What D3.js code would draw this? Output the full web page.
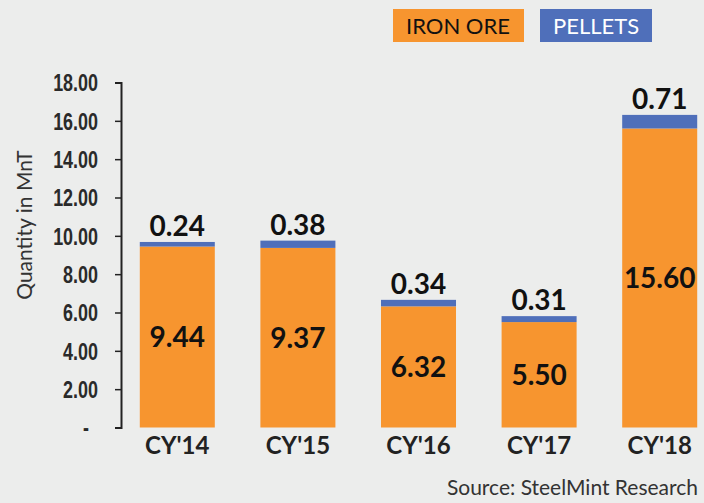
<!DOCTYPE html>
<html>
<head>
<meta charset="utf-8">
<script src="https://cdn.jsdelivr.net/npm/d3@7"></script>
<style>
  body { margin: 0; background: #ecedec; }
  svg { display: block; font-family: Lato, "Open Sans", sans-serif; }
</style>
</head>
<body>
<div id="chart"></div>
<script>
// data
var years = ["CY'14", "CY'15", "CY'16", "CY'17", "CY'18"];
var ironOre = [9.44, 9.37, 6.32, 5.50, 15.60];
var pellets = [0.24, 0.38, 0.34, 0.31, 0.71];
var yTicks = [0, 2, 4, 6, 8, 10, 12, 14, 16, 18];

var W = 704, H = 503;
var orange = "#f7952f", blue = "#4f6fba";

var svg = d3.select("#chart").append("svg")
  .attr("width", W)
  .attr("height", H);

svg.append("rect").attr("width", W).attr("height", H).attr("fill", "#ecedec");

var y = d3.scaleLinear().domain([0, 18]).range([427.5, 82.5]);
var x = d3.scaleBand().domain(years).range([117, 720]).paddingInner(0.378).paddingOuter(0.189);

// y axis
var yAxis = svg.append("g")
  .attr("transform", "translate(121,0)")
  .call(d3.axisLeft(y).tickValues(yTicks).tickSize(6).tickPadding(17)
    .tickFormat(function (d) { return d === 0 ? "-" : d3.format(".2f")(d); }));
yAxis.attr("font-size", null);
yAxis.select(".domain").attr("stroke", "#222").attr("stroke-width", 2);
yAxis.selectAll(".tick line").attr("stroke", "#222").attr("stroke-width", 1.5);
// narrow bold labels: squeeze Liberation Sans Bold horizontally
yAxis.selectAll(".tick text")
  .attr("x", 0)
  .attr("dy", "0.36em")
  .attr("transform", function (d) { return "translate(" + (d === 0 ? -32 : -23) + ",0) scale(0.78,1)"; })
  .attr("fill", "#2a2a2a")
  .style("font-family", "'Liberation Sans', Arial, sans-serif")
  .style("font-weight", "bold")
  .style("font-size", "23px");

svg.append("text")
  .attr("transform", "translate(32,225) rotate(-90)")
  .attr("text-anchor", "middle")
  .attr("fill", "#333")
  .style("font-size", "21px")
  .text("Quantity in MnT");

// stacked bars
var rows = years.map(function (k, i) { return { year: k, ore: ironOre[i], pel: pellets[i] }; });

var g = svg.selectAll(".bar").data(rows).enter().append("g");

g.append("rect")
  .attr("x", function (d) { return x(d.year); })
  .attr("width", x.bandwidth())
  .attr("y", function (d) { return y(d.ore); })
  .attr("height", function (d) { return y(0) - y(d.ore); })
  .attr("fill", orange);

g.append("rect")
  .attr("x", function (d) { return x(d.year); })
  .attr("width", x.bandwidth())
  .attr("y", function (d) { return y(d.ore + d.pel); })
  .attr("height", function (d) { return y(d.ore) - y(d.ore + d.pel); })
  .attr("fill", blue);

// value labels
g.append("text")
  .attr("x", function (d) { return x(d.year) + x.bandwidth() / 2; })
  .attr("y", function (d) { return (y(0) + y(d.ore)) / 2; })
  .attr("dy", "0.36em")
  .attr("text-anchor", "middle")
  .attr("fill", "#111")
  .style("font-size", "28px")
  .style("font-weight", "bold")
  .text(function (d) { return d3.format(".2f")(d.ore); });

g.append("text")
  .attr("x", function (d) { return x(d.year) + x.bandwidth() / 2; })
  .attr("y", function (d) { return y(d.ore + d.pel) - 6; })
  .attr("text-anchor", "middle")
  .attr("fill", "#111")
  .style("font-size", "28px")
  .style("font-weight", "bold")
  .text(function (d) { return d3.format(".2f")(d.pel); });

// x labels
svg.selectAll(".xl").data(years).enter().append("text")
  .attr("x", function (d) { return x(d) + x.bandwidth() / 2; })
  .attr("y", 454)
  .attr("text-anchor", "middle")
  .attr("fill", "#222")
  .style("font-size", "24px")
  .style("font-weight", "bold")
  .text(function (d) { return d; });

// legend
var legend = [
  { name: "IRON ORE", color: orange, text: "#111", x: 393, w: 131 },
  { name: "PELLETS", color: blue, text: "#fff", x: 540, w: 112 }
];
var lg = svg.selectAll(".lg").data(legend).enter().append("g");
lg.append("rect")
  .attr("x", function (d) { return d.x; })
  .attr("y", 9)
  .attr("width", function (d) { return d.w; })
  .attr("height", 33)
  .attr("fill", function (d) { return d.color; });
lg.append("text")
  .attr("x", function (d) { return d.x + 13; })
  .attr("y", 34)
  .attr("fill", function (d) { return d.text; })
  .style("font-size", "22px")
  .text(function (d) { return d.name; });

svg.append("text")
  .attr("x", 698)
  .attr("y", 495)
  .attr("text-anchor", "end")
  .attr("fill", "#333")
  .style("font-size", "21px")
  .text("Source: SteelMint Research");
</script>
</body>
</html>
